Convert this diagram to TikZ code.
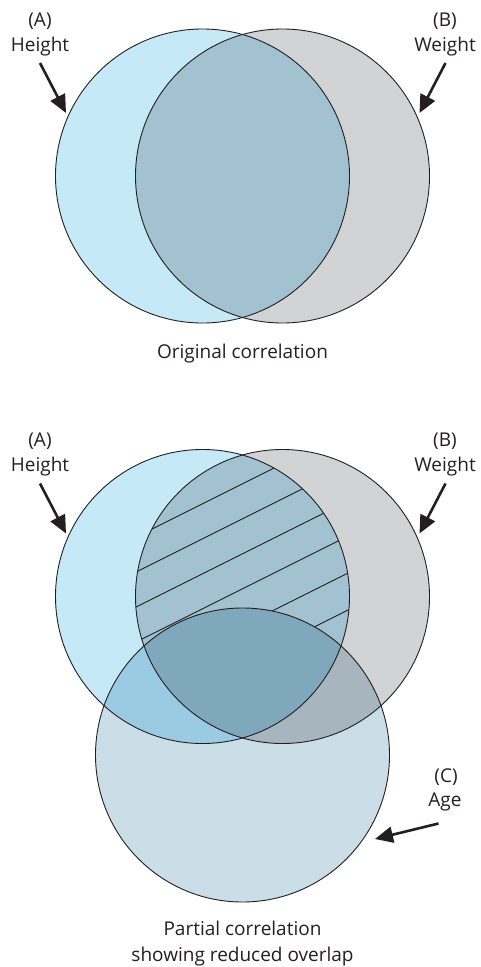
\documentclass[tikz,border=0pt]{standalone}
\usepackage{fontspec}
\setmainfont{Open Sans}
\usetikzlibrary{arrows.meta}
\definecolor{txt}{HTML}{231F20}
\definecolor{cA}{HTML}{C6E9F8}
\definecolor{cB}{HTML}{D1D3D5}
\definecolor{cAB}{HTML}{A2C1D1}
\definecolor{cC}{HTML}{CBDDE6}
\definecolor{cAC}{HTML}{9BCBE3}
\definecolor{cBC}{HTML}{A7B5BE}
\definecolor{cABC}{HTML}{7FA8BD}
\begin{document}
\begin{tikzpicture}[x=1pt,y=-1pt,
  lbl/.style={font=\fontsize{19}{22}\selectfont, text=txt, inner sep=0pt, anchor=base},
  ring/.style={draw=txt, line width=0.9pt},
  pointer/.style={draw=txt, line width=2.6pt, -{Triangle[length=18pt,width=16pt]}},
  hatchline/.style={draw=txt, line width=0.9pt}]
\useasboundingbox (0,0) rectangle (481,967);
\def\R{147}
% ---------- top diagram ----------
\coordinate (A1) at (202.5,176);
\coordinate (B1) at (282.5,176);
\fill[cA] (A1) circle[radius=\R];
\fill[cB] (B1) circle[radius=\R];
\begin{scope}
  \clip (A1) circle[radius=\R];
  \fill[cAB] (B1) circle[radius=\R];
\end{scope}
\draw[ring] (A1) circle[radius=\R];
\draw[ring] (B1) circle[radius=\R];
\node[lbl] (a1) at (40,26) {(A)};
\node[lbl] (h1) at (40,51) {Height};
\node[lbl] (b1) at (445,26) {(B)};
\node[lbl] (w1) at (445,51) {Weight};
\coordinate (h1s) at (40,63);
\coordinate (h1t) at (66,113);
\coordinate (w1s) at (445.5,63);
\coordinate (w1t) at (419.5,113);
\draw[pointer] (h1s) -- (h1t);
\draw[pointer] (w1s) -- (w1t);
\node[lbl] (cap1) at (242.5,358) {Original correlation};
% ---------- bottom diagram ----------
\coordinate (A2) at (202.5,596.5);
\coordinate (B2) at (282.5,596.5);
\coordinate (C2) at (242.5,755);
\fill[cA] (A2) circle[radius=\R];
\fill[cB] (B2) circle[radius=\R];
\begin{scope}
  \clip (A2) circle[radius=\R];
  \fill[cAB] (B2) circle[radius=\R];
\end{scope}
% hatching in A and B outside C
\begin{scope}[even odd rule]
  \clip (A2) circle[radius=\R];
  \clip (B2) circle[radius=\R];
  \clip (0,0) rectangle (481,967) (C2) circle[radius=\R];
  \foreach \c in {605,640,675,710,747,784}
    \draw[hatchline] (100,{\c-50}) -- (400,{\c-200});
\end{scope}
\fill[cC] (C2) circle[radius=\R];
\begin{scope}
  \clip (C2) circle[radius=\R];
  \fill[cAC] (A2) circle[radius=\R];
  \fill[cBC] (B2) circle[radius=\R];
  \clip (A2) circle[radius=\R];
  \fill[cABC] (B2) circle[radius=\R];
\end{scope}
\draw[ring] (A2) circle[radius=\R];
\draw[ring] (B2) circle[radius=\R];
\draw[ring] (C2) circle[radius=\R];
\node[lbl] (a2) at (40,446.5) {(A)};
\node[lbl] (h2) at (40,471.5) {Height};
\node[lbl] (b2) at (445,446.5) {(B)};
\node[lbl] (w2) at (445,471.5) {Weight};
\node[lbl] (c3) at (446,782.5) {(C)};
\node[lbl] (g3) at (445,806.5) {Age};
\coordinate (h2s) at (40,483.5);
\coordinate (h2t) at (66,533.5);
\coordinate (w2s) at (445.5,483.5);
\coordinate (w2t) at (419.5,533.5);
\coordinate (g3s) at (438.5,823.5);
\coordinate (g3t) at (375,839);
\draw[pointer] (h2s) -- (h2t);
\draw[pointer] (w2s) -- (w2t);
\draw[pointer] (g3s) -- (g3t);
\node[lbl] (cap2) at (242.5,935) {Partial correlation};
\node[lbl] (cap3) at (242.5,961.5) {showing reduced overlap};
\end{tikzpicture}
\end{document}
